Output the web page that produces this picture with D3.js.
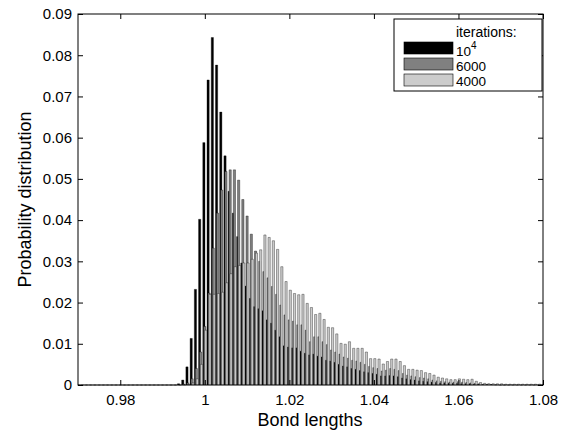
<!DOCTYPE html>
<html>
<head>
<meta charset="utf-8">
<script src="https://cdn.jsdelivr.net/npm/d3@7"></script>
<style>
  body { margin: 0; background: #fff; }
  text { font-family: "Liberation Sans", Arial, Helvetica, sans-serif; fill: #000; }
</style>
</head>
<body>
<svg id="chart" width="574" height="431"></svg>
<script>
// bins run from 0.970 to 1.080, one every 0.001
const binStart = 0.970;
const binStep = 0.001;

const iter10k = [
  0, 0, 0, 0, 0, 0, 0, 0, 0, 0,
  0, 0, 0, 0, 0, 0, 0, 0, 0, 0,
  0, 0, 0, 0, 0.0003, 0.0012, 0.0044, 0.0113, 0.0232, 0.0402,
  0.0588, 0.0740, 0.0843, 0.0776, 0.0662, 0.0556, 0.0470, 0.0417, 0.0360, 0.0296,
  0.0240, 0.0210, 0.0190, 0.0185, 0.0180, 0.0158, 0.0150, 0.0133, 0.0117, 0.0095,
  0.0092, 0.0090, 0.0090, 0.0082, 0.0077, 0.0073, 0.0075, 0.0070, 0.0068, 0.0060,
  0.0058, 0.0055, 0.0050, 0.0046, 0.0044, 0.0040, 0.0038, 0.0035, 0.0032, 0.0030,
  0.0028, 0.0026, 0.0022, 0.0022, 0.0023, 0.0022, 0.0020, 0.0017, 0.0015, 0.0013,
  0.0012, 0.0010, 0.0009, 0.0008, 0.0007, 0.0006, 0.0005, 0.0005, 0.0004, 0.0004,
  0.0004, 0.0003, 0.0003, 0.0003, 0.0002, 0.0002, 0.0001, 0.0001, 0.0001, 0,
  0, 0, 0, 0, 0, 0, 0, 0, 0, 0, 0
];

const iter6000 = [
  0, 0, 0, 0, 0, 0, 0, 0, 0, 0,
  0, 0, 0, 0, 0, 0, 0, 0, 0, 0,
  0, 0, 0, 0, 0, 0.0002, 0.0005, 0.0015, 0.0040, 0.0080,
  0.0142, 0.0223, 0.0332, 0.0417, 0.0473, 0.0518, 0.0522, 0.0522, 0.0497, 0.0450,
  0.0410, 0.0366, 0.0325, 0.0300, 0.0275, 0.0260, 0.0239, 0.0220, 0.0194, 0.0170,
  0.0158, 0.0155, 0.0146, 0.0146, 0.0133, 0.0105, 0.0117, 0.0117, 0.0105, 0.0098,
  0.0085, 0.0080, 0.0075, 0.0068, 0.0065, 0.0060, 0.0058, 0.0055, 0.0050, 0.0045,
  0.0042, 0.0040, 0.0034, 0.0036, 0.0040, 0.0038, 0.0035, 0.0028, 0.0024, 0.0022,
  0.0020, 0.0018, 0.0017, 0.0015, 0.0012, 0.0010, 0.0009, 0.0008, 0.0007, 0.0007,
  0.0008, 0.0007, 0.0006, 0.0005, 0.0004, 0.0003, 0.0002, 0.0002, 0.0001, 0.0001,
  0, 0, 0, 0, 0, 0, 0, 0, 0, 0, 0
];

const iter4000 = [
  0, 0, 0, 0, 0, 0, 0, 0, 0, 0,
  0, 0, 0, 0, 0, 0, 0, 0, 0, 0,
  0, 0, 0, 0, 0, 0, 0.0001, 0.0005, 0.0015, 0.0050,
  0.0133, 0.0220, 0.0220, 0.0222, 0.0225, 0.0248, 0.0270, 0.0287, 0.0290, 0.0296,
  0.0296, 0.0305, 0.0320, 0.0328, 0.0364, 0.0358, 0.0350, 0.0329, 0.0287, 0.0251,
  0.0230, 0.0222, 0.0219, 0.0220, 0.0198, 0.0188, 0.0171, 0.0174, 0.0159, 0.0140,
  0.0139, 0.0124, 0.0101, 0.0099, 0.0105, 0.0089, 0.0089, 0.0089, 0.0080, 0.0064,
  0.0064, 0.0063, 0.0051, 0.0057, 0.0063, 0.0063, 0.0057, 0.0047, 0.0038, 0.0038,
  0.0036, 0.0035, 0.0030, 0.0028, 0.0024, 0.0019, 0.0017, 0.0015, 0.0013, 0.0013,
  0.0015, 0.0014, 0.0013, 0.0014, 0.0009, 0.0006, 0.0004, 0.0003, 0.0003, 0.0003,
  0.0003, 0.0002, 0.0002, 0.0002, 0.0002, 0.0002, 0.0002, 0.0002, 0.0002, 0.0002, 0.0002
];

const seriesLabels = ["10", "6000", "4000"];
const seriesColors = ["#000000", "#808080", "#cccccc"];
const xTicks = [0.98, 1, 1.02, 1.04, 1.06, 1.08];
const yTicks = [0, 0.01, 0.02, 0.03, 0.04, 0.05, 0.06, 0.07, 0.08, 0.09];

const svg = d3.select('#chart');
const pLeft = 78, pRight = 543, pTop = 14, pBottom = 385;

const x = d3.scaleLinear().domain([0.97, 1.08]).range([pLeft, pRight]);
const y = d3.scaleLinear().domain([0, 0.09]).range([pBottom, pTop]);
const bw = x(binStep) - x(0);

svg.append('defs').append('clipPath').attr('id', 'plotclip')
  .append('rect')
  .attr('x', pLeft).attr('y', pTop - 1)
  .attr('width', pRight - pLeft).attr('height', pBottom - pTop + 2);

// overlapping bars: each later series is shifted right and drawn on top
const offsets = [-0.22, 0, 0.22];
const barW = 0.52 * bw;
const allSeries = [iter10k, iter6000, iter4000];

const barLayer = svg.append('g').attr('clip-path', 'url(#plotclip)');
allSeries.forEach((vals, s) => {
  barLayer.append('g')
    .selectAll('path')
    .data(vals)
    .enter()
    .append('path')
    .attr('d', (v, i) => {
      let cx = x(binStart + i * binStep) + offsets[s] * bw;
      let x0 = cx - barW / 2, x1 = cx + barW / 2;
      return `M${x0},${y(0)}V${y(v)}H${x1}V${y(0)}`;
    })
    .attr('fill', seriesColors[s])
    .attr('stroke', '#000')
    .attr('stroke-width', 0.35);
});

// axes, ticks point inwards like the original
function styleAxis(g) {
  g.select('.domain').remove();
  g.selectAll('.tick line').attr('stroke', '#000');
  g.selectAll('.tick text').style('font-size', '15px')
    .style('font-family', '"Liberation Sans", Arial, sans-serif');
}

svg.append('g')
  .attr('transform', `translate(0,${pBottom})`)
  .call(d3.axisBottom(x).tickValues(xTicks).tickSize(-5).tickPadding(9)
    .tickFormat(d3.format('~g')))
  .call(styleAxis);

svg.append('g')
  .attr('transform', `translate(0,${pTop})`)
  .call(d3.axisTop(x).tickValues(xTicks).tickSize(-5).tickFormat(''))
  .call(styleAxis);

svg.append('g')
  .attr('transform', `translate(${pLeft},0)`)
  .call(d3.axisLeft(y).tickValues(yTicks).tickSize(-5).tickPadding(6)
    .tickFormat(d3.format('~g')))
  .call(styleAxis);

svg.append('g')
  .attr('transform', `translate(${pRight},0)`)
  .call(d3.axisRight(y).tickValues(yTicks).tickSize(-5).tickFormat(''))
  .call(styleAxis);

svg.append('rect')
  .attr('x', pLeft).attr('y', pTop)
  .attr('width', pRight - pLeft).attr('height', pBottom - pTop)
  .attr('fill', 'none').attr('stroke', '#000').attr('stroke-width', 1);

// axis titles
svg.append('text')
  .attr('x', 310)
  .attr('y', 426)
  .attr('text-anchor', 'middle')
  .style('font-size', '18px')
  .text('Bond lengths');

svg.append('text')
  .attr('transform', `translate(31,${(pTop + pBottom) / 2}) rotate(-90)`)
  .attr('text-anchor', 'middle')
  .style('font-size', '18px')
  .text('Probability distribution');

// legend
const lg = svg.append('g');
lg.append('rect')
  .attr('x', 394).attr('y', 19)
  .attr('width', 148).attr('height', 72)
  .attr('fill', '#fff').attr('stroke', '#000').attr('stroke-width', 1);

lg.append('text').attr('x', 456).attr('y', 37)
  .style('font-size', '14px').text('iterations:');

const swatchY = [42, 58, 74];
const labelY = [55.5, 70.5, 86];
seriesLabels.forEach((lab, i) => {
  lg.append('rect')
    .attr('x', 404).attr('y', swatchY[i])
    .attr('width', 49).attr('height', 12)
    .attr('fill', seriesColors[i])
    .attr('stroke', '#000').attr('stroke-width', 0.6);
  let t = lg.append('text').attr('x', 456).attr('y', labelY[i])
    .style('font-size', '13.5px').text(lab);
  if (i === 0) {
    t.append('tspan').attr('dy', -7).style('font-size', '10px').text('4');
  }
});
</script>
</body>
</html>
